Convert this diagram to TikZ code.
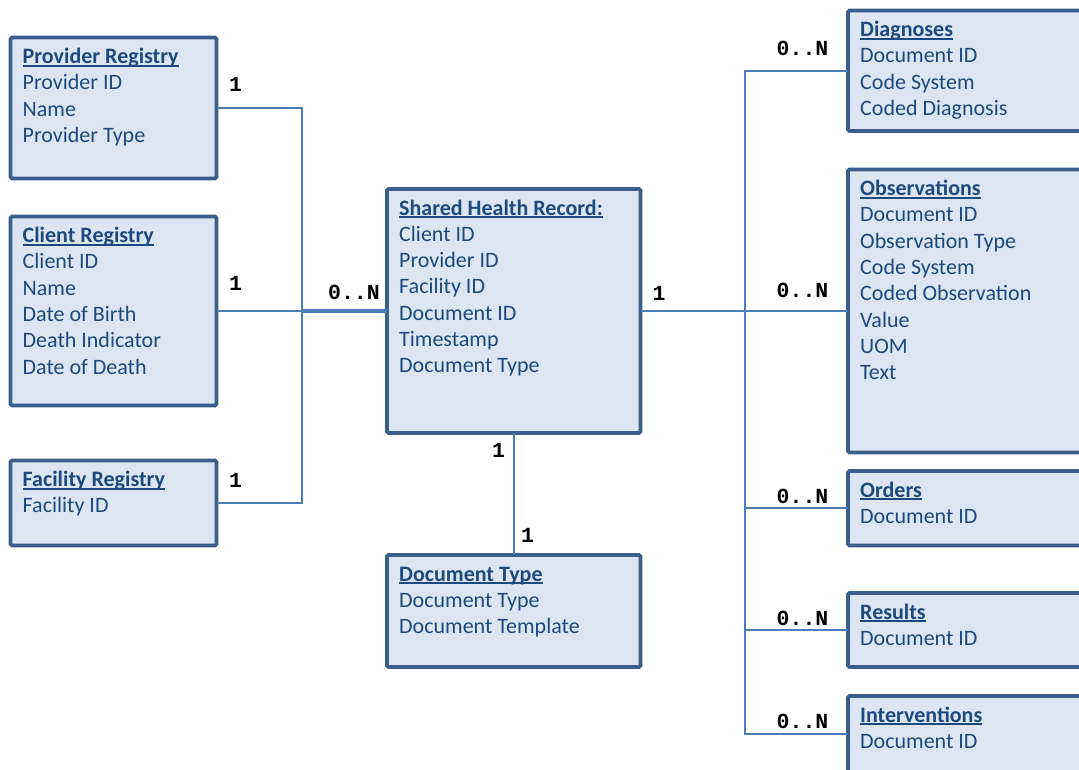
\documentclass[tikz,border=0pt]{standalone}
\usepackage{fontspec}
\setmainfont{Carlito}
\newfontfamily\labfont{Liberation Mono}
\usetikzlibrary{fit}

\definecolor{boxfill}{HTML}{DCE6F2}
\definecolor{boxline}{HTML}{3B5E8C}
\definecolor{conncol}{HTML}{4A7EBB}
\definecolor{txt}{HTML}{1F497D}

% underlined entity title with a rule that crosses the descenders
\newcommand\ulbar[1]{\setbox0\hbox{#1}\rlap{\color{txt}\rule[-3pt]{\wd0}{1.8pt}}\box0}

\tikzset{
  ebox/.style={draw=boxline, fill=boxfill, line width=3.8pt, rounded corners=1.5pt,
               inner sep=0pt, outer sep=0pt},
  etitle/.style={anchor=base west, inner sep=0pt, text=txt,
                 font=\fontsize{22}{26}\selectfont\bfseries},
  eitem/.style={anchor=base west, inner sep=0pt, text=txt,
                font=\fontsize{22}{26}\selectfont},
  conn/.style={draw=conncol, line width=2.2pt},
  card/.style={inner sep=0pt, text=black, font=\labfont\bfseries\fontsize{21.5}{24}\selectfont},
}

% entity: name, left, top, right, bottom, title, attribute list
\newcommand\entity[7]{%
  \node[ebox, fit={(#2,#3) (#4,#5)}] (#1) {};
  \node[etitle] (#1-t) at ([shift={(12,26)}]#1.north west) {\ulbar{#6}};
  \foreach \s [count=\i] in {#7} {
    \node[eitem] (#1-\i) at ([shift={(12,{26+26.3*\i})}]#1.north west) {\s};
  }%
}

\begin{document}
\begin{tikzpicture}[x=1pt, y=-1pt]
\useasboundingbox (0,0) rectangle (1079,769);
\clip (0,0) rectangle (1079,769);

% left-hand registries
\entity{prov}{10.5}{37.5}{216.5}{178.5}{Provider Registry}{Provider ID,Name,Provider Type}
\entity{client}{10.5}{216.5}{216.5}{405.5}{Client Registry}{Client ID,Name,Date of Birth,Death Indicator,Date of Death}
\entity{fac}{10.5}{460.5}{216.5}{545.5}{Facility Registry}{Facility ID}

% central record and its template
\entity{shr}{387}{189}{640.5}{433}{Shared Health Record:}{Client ID,Provider ID,Facility ID,Document ID,Timestamp,Document Type}
\entity{dtype}{387}{555}{640.5}{667}{Document Type}{Document Type,Document Template}

% right-hand clinical content
\entity{diag}{848}{10.5}{1095}{131}{Diagnoses}{Document ID,Code System,Coded Diagnosis}
\entity{obs}{848}{169.5}{1095}{452.5}{Observations}{Document ID,Observation Type,Code System,Coded Observation,Value,UOM,Text}
\entity{ord}{848}{471}{1095}{545.5}{Orders}{Document ID}
\entity{res}{848}{593}{1095}{667}{Results}{Document ID}
\entity{interv}{848}{696}{1095}{772}{Interventions}{Document ID}

% bus lines
\coordinate (lbus) at (302,0);
\coordinate (rbus) at (745,0);

% registries to shared health record
\draw[conn] (prov.east) -| (lbus |- fac.east) -- (fac.east);
\draw[conn] (client.east) -- (lbus |- client.east);
\draw[conn, line width=3.2pt] (lbus |- shr.west) -- (shr.west);

% shared health record to document type
\draw[conn] (shr.south) -- (dtype.north);

% shared health record to clinical content
\draw[conn] (shr.east) -- (obs.west);
\draw[conn] (diag.west) -| (rbus |- interv.west) -- (interv.west);
\draw[conn] (rbus |- ord.west) -- (ord.west);
\draw[conn] (rbus |- res.west) -- (res.west);

% cardinalities
\node[card] (c1) at (235.5,84) {1};
\node[card] (c2) at (235.5,283) {1};
\node[card] (c3) at (235.5,480.5) {1};
\node[card] (c4) at (354,292.5) {0..N};
\node[card] (c5) at (659,293) {1};
\node[card] (c6) at (498.5,450) {1};
\node[card] (c7) at (527.5,535) {1};
\node[card] (c8) at (802.5,48.5) {0..N};
\node[card] (c9) at (802.5,290.5) {0..N};
\node[card] (c10) at (802.5,496) {0..N};
\node[card] (c11) at (802.5,618.5) {0..N};
\node[card] (c12) at (802.5,721) {0..N};
\end{tikzpicture}
\end{document}
